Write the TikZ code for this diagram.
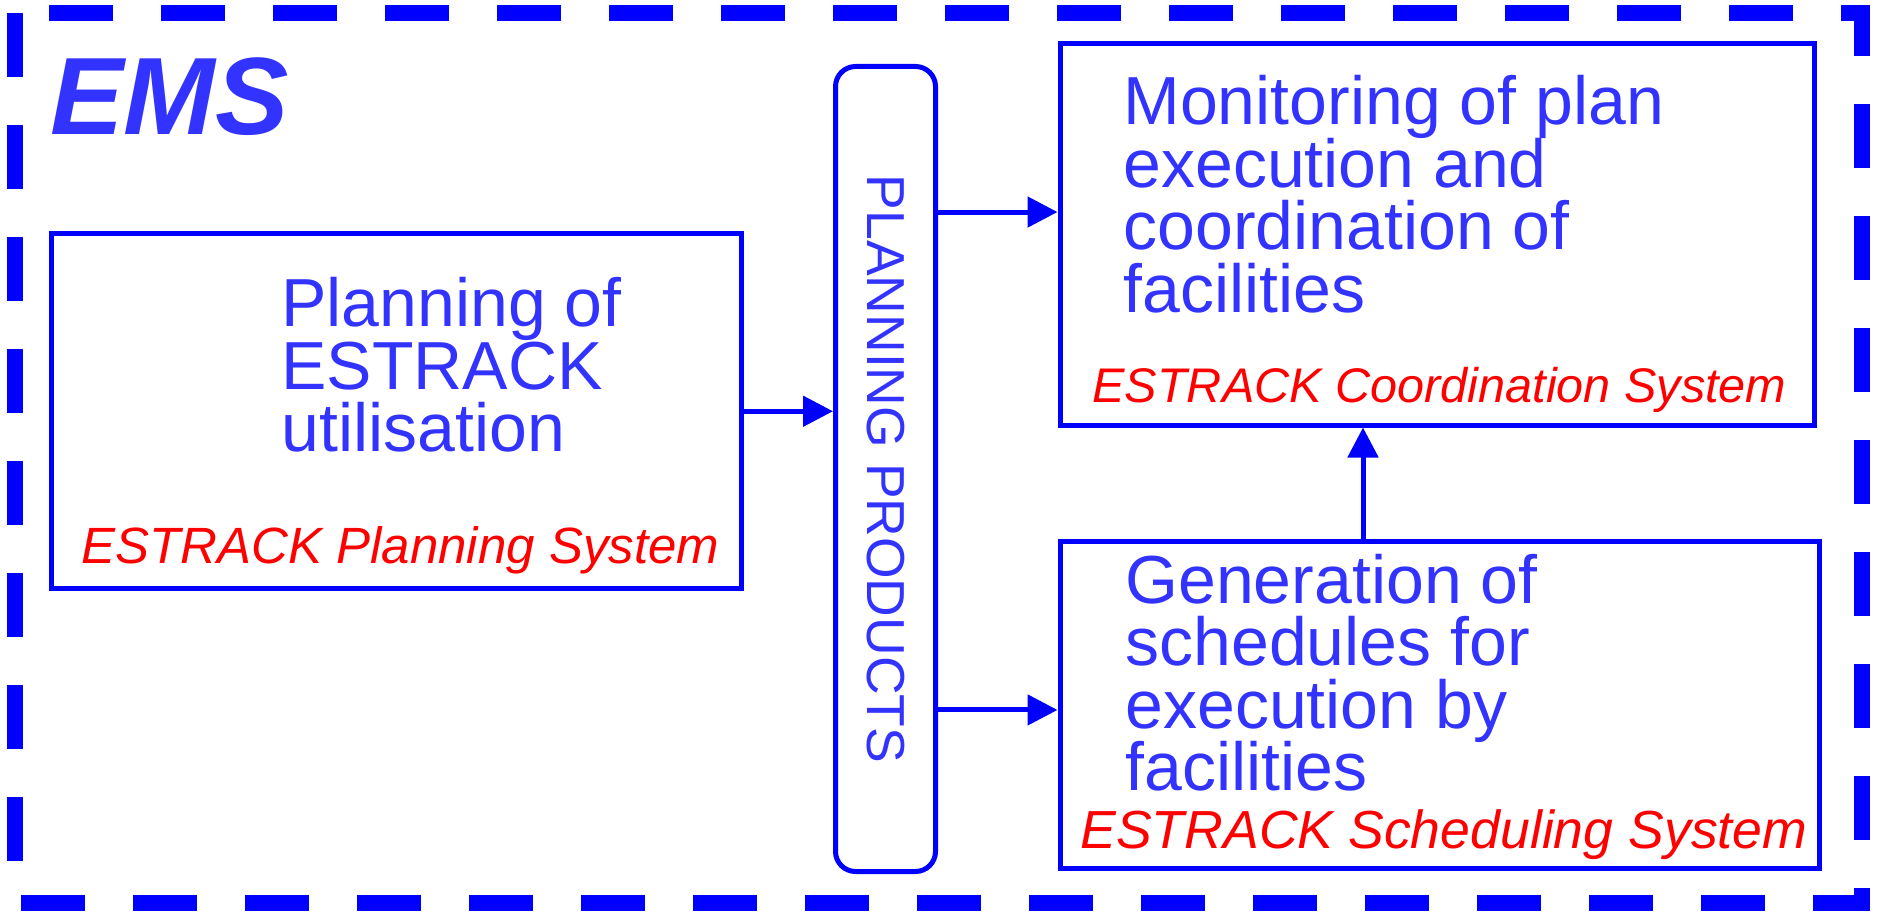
\documentclass[tikz,border=0pt]{standalone}
\usepackage{fontspec}
\setmainfont{Liberation Sans}
\usetikzlibrary{arrows.meta}
\definecolor{emsblue}{RGB}{0,0,255}
\definecolor{txtblue}{RGB}{51,51,255}
\definecolor{emsred}{RGB}{255,0,0}
\newcommand{\mlines}[1]{\vtop{\lineskiplimit=-1000pt\relax\lineskip=0pt\relax#1}}
\begin{document}
\begin{tikzpicture}[x=0.5pt,y=-0.5pt,
  box/.style={draw=emsblue,line width=2.5pt,inner sep=0pt},
  arr/.style={draw=emsblue,line width=2.5pt,-{Triangle[length=15pt,width=15pt]}},
  maintext/.style={text=txtblue,font=\fontsize{34}{31.25}\selectfont,anchor=base west,inner sep=0pt},
  systext/.style={text=emsred,anchor=base west,inner sep=0pt,text height=0.74em,text depth=0.2em},
]
\useasboundingbox (0,0) rectangle (1877,914);
% outer dashed frame
\draw[emsblue,line width=8pt,dash pattern=on 32pt off 24pt]
  (15,13) -- (15,903) -- (1862,903) -- (1862,13) -- cycle;
% title
\node[anchor=base west,inner sep=0pt,text=txtblue,font=\fontsize{55}{60}\selectfont\bfseries\itshape] (ems) at (50,135) {EMS};
% boxes
\node[box,minimum width=345.25pt,minimum height=177.25pt] (lp) at (396.25,411.25) {};
\node[box,rounded corners=10pt,minimum width=50pt,minimum height=402.5pt] (pp) at (885.5,469) {};
\node[box,minimum width=377.25pt,minimum height=190.75pt] (cs) at (1437.25,234.25) {};
\node[box,minimum width=379.5pt,minimum height=163.75pt] (ss) at (1439.5,704.75) {};
% vertical label
\node[text=txtblue,font=\fontsize{26.75}{30}\selectfont,rotate=-90,inner sep=0pt] (pptext) at (pp.center) {PLANNING PRODUCTS};
% main texts
\node[maintext] (lptext) at (281,327) {\mlines{\hbox{Planning of}\hbox{ESTRACK}\hbox{utilisation}}};
\node[maintext] (cstext) at (1123,125) {\mlines{\hbox{Monitoring of plan}\hbox{execution and}\hbox{coordination of}\hbox{facilities}}};
\node[maintext] (sstext) at (1125,603) {\mlines{\hbox{Generation of}\hbox{schedules for}\hbox{execution by}\hbox{facilities}}};
% system names
\node[systext,font=\fontsize{25.5}{30}\selectfont\itshape] (lpsys) at (81,563) {ESTRACK Planning System};
\node[systext,font=\fontsize{24.3}{30}\selectfont\itshape] (cssys) at (1092,402) {ESTRACK Coordination System};
\node[systext,font=\fontsize{26.8}{30}\selectfont\itshape] (sssys) at (1080,848) {ESTRACK Scheduling System};
% connectors
\draw[arr] (lp.east) -- (lp.east -| pp.west);
\draw[arr] ([yshift=11.1pt]cs.west -| pp.east) -- ([yshift=11.1pt]cs.west);
\draw[arr] ([yshift=-2.6pt]ss.west -| pp.east) -- ([yshift=-2.6pt]ss.west);
\draw[arr] ([xshift=-38.25pt]ss.north) -- ([xshift=-38.25pt]ss.north |- cs.south);
\end{tikzpicture}
\end{document}
